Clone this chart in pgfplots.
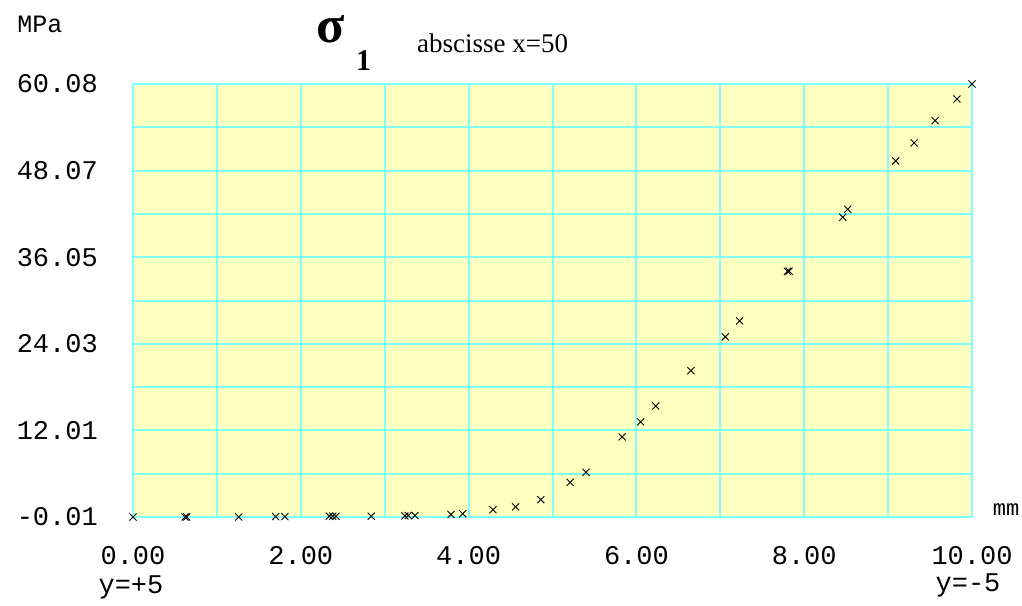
\documentclass[border=0pt]{standalone}
\usepackage{pgfplots}
\pgfplotsset{compat=1.18}
\usepackage{fontspec}
\setmainfont{Liberation Serif}
\newfontfamily\pix{Liberation Mono}
\definecolor{bgy}{HTML}{FFFFC0}
\definecolor{gridc}{HTML}{80FFFF}
\begin{document}
\begin{tikzpicture}[x=1pt,y=1pt]
\path[use as bounding box] (0,0) rectangle (1022,-605);
\begin{axis}[at={(133pt,-517pt)}, anchor=south west, scale only axis,
  width=839pt, height=433pt,
  xmin=0, xmax=10, ymin=-0.01, ymax=60.08,
  axis background/.style={fill=bgy},
  axis line style={draw=gridc, line width=2pt},
  grid=major, major grid style={draw=gridc, line width=2pt},
  major tick length=0pt,
  xtick={0,1,2,3,4,5,6,7,8,9,10},
  xticklabels={0.00,,2.00,,4.00,,6.00,,8.00,,10.00},
  ytick={-0.01,5.999,12.008,18.017,24.026,30.035,36.044,42.053,48.062,54.071,60.08},
  yticklabels={-0.01,,12.01,,24.03,,36.05,,48.07,,60.08},
  ticklabel style={font=\pix\fontsize{27}{27}\selectfont, inner sep=0pt},
  xticklabel style={anchor=center, yshift=-39pt},
  yticklabel style={anchor=east, xshift=-35pt},
  clip=false]
\addplot[only marks, mark=x, mark size=5pt, mark options={line width=0.9pt, black}] coordinates {
(0,0) (0.62,0) (0.64,0) (1.26,0) (1.70,0.05) (1.81,0.05)
(2.34,0.1) (2.38,0.1) (2.42,0.1) (2.84,0.1)
(3.24,0.15) (3.28,0.2) (3.36,0.2) (3.79,0.35) (3.93,0.45)
(4.29,1.0) (4.56,1.4) (4.86,2.4) (5.21,4.8) (5.40,6.2)
(5.83,11.1) (6.05,13.2) (6.23,15.4) (6.65,20.3) (7.06,25.0) (7.23,27.2)
(7.80,34.1) (7.82,34.1) (8.46,41.6) (8.52,42.7)
(9.09,49.4) (9.31,51.9) (9.56,55.0) (9.82,58.0) (10.0,60.08)
};
\end{axis}
\node[font=\pix\fontsize{25}{25}\selectfont, inner sep=0pt] at (40,-24) {MPa};
\node[anchor=base west, font=\bfseries\fontsize{52}{52}\selectfont, inner sep=0pt] at (316,-42) {σ};
\node[anchor=base west, font=\bfseries\fontsize{30}{30}\selectfont, inner sep=0pt] at (356,-70) {1};
\node[anchor=base west, inner sep=0pt, font=\fontsize{27}{27}\selectfont] at (417,-52) {abscisse x=50};
\node[font=\pix\fontsize{27}{27}\selectfont, inner sep=0pt] at (131,-587) {y=+5};
\node[font=\pix\fontsize{27}{27}\selectfont, inner sep=0pt] at (968,-585) {y=-5};
\node[font=\pix\fontsize{22}{22}\selectfont, inner sep=0pt] at (1006,-510) {mm};
\end{tikzpicture}
\end{document}
